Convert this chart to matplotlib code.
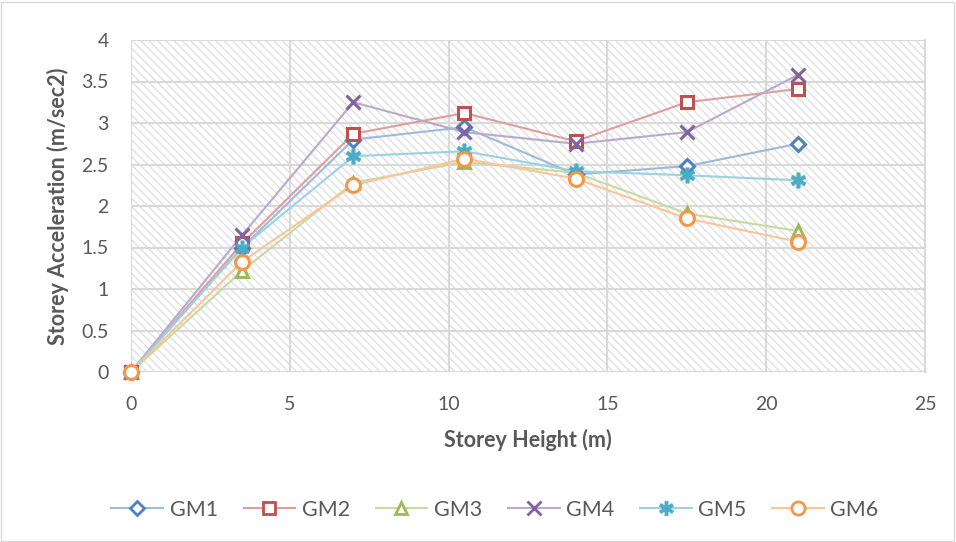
import matplotlib
matplotlib.use("Agg")
import matplotlib.pyplot as plt
from matplotlib.patches import Rectangle
from matplotlib.colors import to_rgb

heights = [0, 3.5, 7, 10.5, 14, 17.5, 21]
gm1 = [0, 1.50, 2.80, 2.95, 2.38, 2.48, 2.75]
gm2 = [0, 1.55, 2.87, 3.12, 2.78, 3.25, 3.41]
gm3 = [0, 1.22, 2.28, 2.53, 2.40, 1.91, 1.70]
gm4 = [0, 1.65, 3.25, 2.89, 2.75, 2.89, 3.58]
gm5 = [0, 1.50, 2.60, 2.66, 2.42, 2.37, 2.31]
gm6 = [0, 1.33, 2.25, 2.57, 2.33, 1.85, 1.57]
names = ["GM1", "GM2", "GM3", "GM4", "GM5", "GM6"]
series = [gm1, gm2, gm3, gm4, gm5, gm6]

colors = ["#4F81BD", "#C0504D", "#9BBB59", "#8064A2", "#4BACC6", "#F79646"]
markers = ["D", "s", "^", "x", "$\u2731$", "o"]
msizes = [7, 9, 9, 10, 11, 10]


def lighten(c, f=0.55):
    r, g, b = to_rgb(c)
    return (1 - f + f * r, 1 - f + f * g, 1 - f + f * b)


plt.rcParams["font.family"] = ["Lato", "DejaVu Sans"]
plt.rcParams["hatch.color"] = "#dadada"
plt.rcParams["hatch.linewidth"] = 0.8

fig = plt.figure(figsize=(9.56, 5.42), dpi=100)
fig.patch.set_facecolor("white")
fig.add_artist(Rectangle((0.001, 0.002), 0.997, 0.995, transform=fig.transFigure,
                         fill=False, edgecolor="#d9d9d9", lw=1))
ax = fig.add_axes([131/956, 1-372/542, (925-131)/956, (372-40)/542])
ax.set_xlim(0, 25)
ax.set_ylim(0, 4)
ax.add_patch(Rectangle((0, 0), 1, 1, transform=ax.transAxes, facecolor="white",
                       hatch="\\\\\\\\", edgecolor="#dadada", lw=0, zorder=0))
ax.set_xticks([0, 5, 10, 15, 20, 25])
ax.set_yticks([0, 0.5, 1, 1.5, 2, 2.5, 3, 3.5, 4])
ax.set_yticklabels(["0", "0.5", "1", "1.5", "2", "2.5", "3", "3.5", "4"])
ax.grid(True, color="#d9d9d9", lw=1.5, zorder=1)
ax.set_axisbelow(True)
for s in ax.spines.values():
    s.set_visible(False)
ax.spines["right"].set_visible(True)
ax.spines["right"].set_color("#d9d9d9")
ax.spines["right"].set_linewidth(1.5)
ax.tick_params(length=0, labelsize=14, colors="#595959")
ax.tick_params(axis="x", pad=17)
ax.tick_params(axis="y", pad=16)

handles = []
for name, vals, c, m, ms in zip(names, series, colors, markers, msizes):
    lc = lighten(c)
    ax.plot(heights, vals, color=lc, lw=1.5, zorder=2, clip_on=False)
    fc = "white" if m not in ("x", "$\u2731$") else c
    mew = 2.2 if m != "$\u2731$" else 0.5
    ax.plot(heights, vals, linestyle="none", marker=m, markersize=ms,
            markerfacecolor=fc, markeredgecolor=c, markeredgewidth=mew,
            zorder=3, clip_on=False)
    h, = ax.plot([], [], color=lc, lw=1.5, marker=m, markersize=ms*0.95,
                 markerfacecolor=fc, markeredgecolor=c,
                 markeredgewidth=2 if m != "$\u2731$" else 0.5)
    handles.append(h)

leg = fig.legend(handles, names, loc="center", bbox_to_anchor=(495/956, 1-510/542), ncol=6,
                 frameon=False, fontsize=15.5, handlelength=2.4, columnspacing=1.2,
                 handletextpad=0.3, labelcolor="#595959")

ax.set_xlabel("Storey Height (m)", fontsize=15.5, fontweight="bold", color="#595959", labelpad=12)
ax.set_ylabel("Storey Acceleration (m/sec2)", fontsize=15.5, fontweight="bold", color="#595959", labelpad=9)

fig.savefig("out.png", dpi=100)
